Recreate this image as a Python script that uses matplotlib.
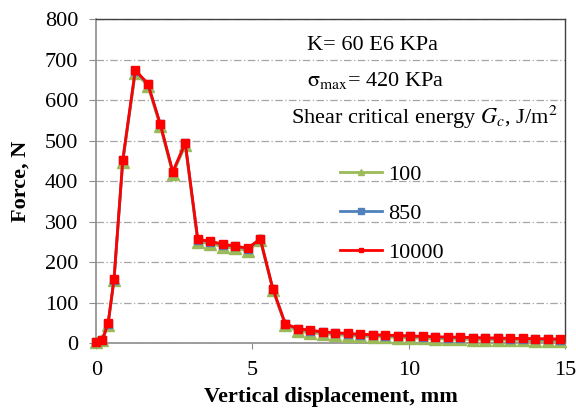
import matplotlib
matplotlib.use("Agg")
import matplotlib.pyplot as plt
from matplotlib.lines import Line2D
from matplotlib import font_manager as fm

plt.rcParams['font.family'] = 'serif'
plt.rcParams['font.serif'] = ['Liberation Serif']
plt.rcParams['mathtext.fontset'] = 'stix'

serif_path = fm.findfont(fm.FontProperties(family='Liberation Serif'))
serif_bold_path = fm.findfont(fm.FontProperties(family='Liberation Serif', weight='bold'))
fp16 = fm.FontProperties(fname=serif_path, size=16)
fp16b = fm.FontProperties(fname=serif_bold_path, size=16)

displacement = [0, 0.2, 0.38, 0.57, 0.85, 1.25, 1.65, 2.05, 2.45, 2.85, 3.25, 3.65,
                4.05, 4.45, 4.85, 5.25, 5.65, 6.05, 6.45, 6.85, 7.25, 7.65, 8.05,
                8.45, 8.85, 9.25, 9.65, 10.05, 10.45, 10.85, 11.25, 11.65, 12.05,
                12.45, 12.85, 13.25, 13.65, 14.05, 14.45, 14.85]

force_100 = [2, 7, 46, 155, 448, 668, 636, 536, 418, 488, 250, 246, 238, 234, 228, 254,
             132, 44, 30, 26, 23, 21, 19, 17, 16, 15, 14, 13, 12, 11, 10, 10, 9, 8, 8,
             7, 7, 6, 6, 5]
force_850 = [3, 9, 48, 157, 451, 672, 640, 540, 422, 493, 255, 251, 243, 239, 233, 257,
             134, 47, 35, 31, 27, 25, 23, 21, 20, 19, 18, 17, 16, 15, 14, 14, 13, 12, 12,
             11, 11, 10, 10, 9]
force_10000 = [3, 9, 49, 158, 452, 674, 641, 541, 423, 494, 256, 252, 244, 240, 234, 258,
               135, 48, 36, 32, 28, 26, 24, 22, 21, 20, 19, 18, 17, 16, 15, 15, 14, 13, 13,
               12, 12, 11, 11, 10]

series_labels = ['100', '850', '10000']
x_ticks = [0, 5, 10, 15]
y_ticks = [0, 100, 200, 300, 400, 500, 600, 700, 800]
colors = ['#9BBB59', '#4F81BD', '#FF0000']
markers = ['^', 's', 's']

fig = plt.figure(figsize=(5.76, 4.15), dpi=100)
ax = fig.add_axes([0.167, 0.173, 0.814, 0.781])

ax.plot(displacement, force_100, color=colors[0], marker=markers[0], markersize=8,
        linewidth=2, clip_on=False, zorder=3)
ax.plot(displacement, force_850, color=colors[1], marker=markers[1], markersize=5.5,
        linewidth=2, clip_on=False, zorder=4)
ax.plot(displacement, force_10000, color=colors[2], marker=markers[2], markersize=6,
        linewidth=2, clip_on=False, zorder=5)

ax.set_xlim(0, 15)
ax.set_ylim(0, 800)
ax.set_xticks(x_ticks)
ax.set_xticklabels([str(v) for v in x_ticks], fontproperties=fp16)
ax.set_yticks(y_ticks)
ax.set_yticklabels([str(v) for v in y_ticks], fontproperties=fp16)
ax.yaxis.grid(True, linestyle=(0, (6, 2, 1, 2)), color='#A6A6A6', linewidth=0.9)
ax.set_axisbelow(True)

for s in ['left', 'bottom']:
    ax.spines[s].set_color('#8C8C8C')
    ax.spines[s].set_linewidth(1.2)
for s in ['top', 'right']:
    ax.spines[s].set_color('#404040')
    ax.spines[s].set_linewidth(1.0)

ax.tick_params(axis='both', direction='out', color='#8C8C8C')
ax.tick_params(axis='y', length=5, pad=8)
ax.tick_params(axis='x', length=4, pad=9)

ax.set_xlabel('Vertical displacement, mm', fontproperties=fp16b)
ax.xaxis.set_label_coords(0.5, -0.135)
ax.set_ylabel('Force, N', fontproperties=fp16b, va='center')
ax.yaxis.set_label_coords(-0.162, 0.5)

ax.text(0.45, 0.92, 'K= 60 E6 KPa', transform=ax.transAxes, fontproperties=fp16,
        ha='left', va='center')
ax.text(0.449, 0.812, r'$\mathrm{\sigma}_{\mathrm{max}}$= 420 KPa', transform=ax.transAxes,
        fontproperties=fp16, ha='left', va='center')
ax.text(0.985, 0.698, r'Shear critical energy $G_c$, J/m$^2$', transform=ax.transAxes,
        fontproperties=fp16, ha='right', va='center')

handles = [
    Line2D([], [], color=colors[0], marker='^', markersize=5, linewidth=2),
    Line2D([], [], color=colors[1], marker='s', markersize=4, linewidth=2),
    Line2D([], [], color=colors[2], marker='s', markersize=3, linewidth=2),
]
ax.legend(handles, series_labels, loc='center left', bbox_to_anchor=(0.52, 0.399),
          frameon=False, prop=fp16, handlelength=1.88, handletextpad=0.27,
          labelspacing=0.83, borderpad=0, borderaxespad=0)

fig.savefig('out.png', dpi=100)
